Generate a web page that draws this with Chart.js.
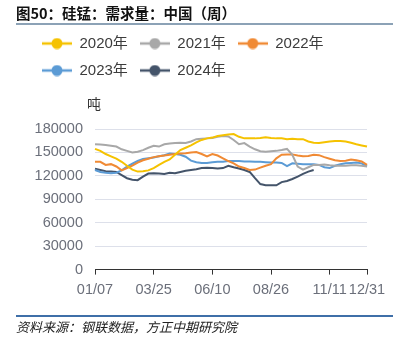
<!DOCTYPE html>
<html lang="zh">
<head>
<meta charset="UTF-8">
<title>硅锰：需求量：中国（周）</title>
<style>
  body { margin: 0; background: #fff; }
  #wrap { position: relative; width: 393px; height: 342px; overflow: hidden;
          font-family: "Liberation Sans", "Noto Sans CJK SC", sans-serif; }
  #chart { position: absolute; left: 0; top: 0; }
  .title { position: absolute; left: 16px; top: 5px; font-size: 14.5px; line-height: 16px;
           font-weight: bold; color: #111; font-family: "Noto Sans CJK SC", sans-serif; }
  .rule-top { position: absolute; left: 16px; right: 0; top: 23px; height: 1.5px; background: #8ca2b6; }
  .unit { position: absolute; left: 87px; top: 96px; font-size: 14px; line-height: 14px; color: #333;
          font-family: "Noto Sans CJK SC", sans-serif; }
  .rule-bottom { position: absolute; left: 16px; right: 0; top: 315px; height: 1.5px; background: #3f6fa8; }
  .source { position: absolute; left: 16px; top: 320px; font-size: 13px; line-height: 14px; color: #222;
            font-style: italic; font-family: "Noto Sans CJK SC", sans-serif; }
</style>
<script src="https://cdn.jsdelivr.net/npm/chart.js@4.4.1/dist/chart.umd.min.js"></script>
</head>
<body>
<div id="wrap">
  <canvas id="chart" width="393" height="342"></canvas>
  <div class="title">图50：硅锰：需求量：中国（周）</div>
  <div class="rule-top"></div>
  <div class="unit">吨</div>
  <div class="rule-bottom"></div>
  <div class="source">资料来源：钢联数据，方正中期研究院</div>
</div>
<script>
// weekly categories, only some of them get a label on the axis
const weeks = ['01/07','01/14','01/21','01/28','02/04','02/11','02/18','02/25','03/04','03/11','03/18','03/25',
  '04/01','04/08','04/15','04/22','04/29','05/06','05/13','05/20','05/27','06/03','06/10','06/17','06/24',
  '07/01','07/08','07/15','07/22','07/29','08/05','08/12','08/19','08/26','09/02','09/09','09/16','09/23',
  '09/30','10/07','10/14','10/21','10/28','11/04','11/11','11/18','11/25','12/02','12/09','12/16','12/23','12/31'];
const shownWeeks = ['01/07','03/25','06/10','08/26','11/11','12/31'];

const seriesNames = ['2020年', '2021年', '2022年', '2023年', '2024年'];
const seriesColors = ['#F5C200', '#A8A8A8', '#F08A34', '#5B9BD5', '#44546A'];

const y2020 = [154500,152000,148000,145000,142000,138000,133000,128000,125500,126000,127000,130000,
  134000,138000,141000,147000,153000,156000,159000,163000,166000,168000,169000,171000,172000,173000,
  173500,170000,168000,168000,168000,168500,169500,168500,168000,168000,167000,167500,167000,167000,
  164000,162500,162000,163000,164000,164500,164500,164000,162500,160500,159000,157500];
const y2021 = [160500,160000,159500,158500,157500,154000,152000,150000,151000,153000,156000,158500,
  157500,160500,161500,162000,162500,162000,164000,167000,167500,168000,168500,170000,171000,170500,
  166000,160500,162000,157500,154000,151500,151000,151500,152000,153000,154500,147000,132000,128000,
  131000,134000,134000,134500,133500,133000,133000,133000,133500,133500,133000,132000];
const y2022 = [138000,138000,134000,135000,132000,127000,130000,133000,137000,140000,142000,144000,
  145000,146000,147000,148000,148500,149000,150000,150500,148000,145000,148000,146000,142500,139000,
  136000,132000,130000,127500,128000,130500,133000,135000,142500,147000,147500,147500,146000,145000,
  145500,147000,146500,144000,142000,140000,139000,139500,141000,140000,138500,134000];
const y2023 = [127500,125000,124000,123500,124000,127000,132000,135500,139000,141500,142500,143500,
  145000,146500,148500,148000,147000,144500,139500,137500,136500,136500,137500,138000,138000,139000,
  139000,139000,138500,138500,138000,138000,137500,137000,137000,136500,132500,136000,135500,135000,
  135000,135000,134000,131000,130000,133000,135000,136000,136500,137000,136000,132000];
const y2024 = [129000,127500,126000,125500,125000,121000,117000,115000,114500,119000,123000,123500,
  123000,122500,124000,123500,125000,126500,127500,128500,130000,130500,130000,129500,130000,133000,
  131000,129500,127500,125000,117000,109500,108000,108000,108000,112000,113500,116000,119000,122500,
  125500,127500];
const seriesValues = [y2020, y2021, y2022, y2023, y2024];

// legend marker: short line with a dot in the middle
function legendSwatch(color) {
  const c = document.createElement('canvas');
  c.width = 30; c.height = 12;
  const g = c.getContext('2d');
  g.strokeStyle = color; g.lineWidth = 2.5;
  g.beginPath(); g.moveTo(0, 6); g.lineTo(30, 6); g.stroke();
  g.fillStyle = color;
  g.beginPath(); g.arc(15, 6, 5.5, 0, Math.PI * 2); g.fill();
  return c;
}

// push the plot area down below the legend, leaves room for the unit label
const legendGap = {
  id: 'legendGap',
  beforeInit(chart) {
    const fit = chart.legend.fit;
    chart.legend.fit = function () { fit.call(this); this.height += 41; };
  }
};

const tickFont = { family: '"Liberation Sans", "Noto Sans CJK SC", sans-serif', size: 14.5 };

new Chart(document.getElementById('chart'), {
  type: 'line',
  data: {
    labels: weeks,
    datasets: seriesNames.map((name, i) => ({
      label: name,
      data: seriesValues[i],
      borderColor: seriesColors[i],
      backgroundColor: seriesColors[i],
      borderWidth: 2,
      pointRadius: 0,
      pointHoverRadius: 0,
      pointStyle: legendSwatch(seriesColors[i]),
      tension: 0,
      fill: false
    }))
  },
  options: {
    responsive: false,
    animation: false,
    layout: { padding: { top: 24, left: 30, right: 26, bottom: 36 } },
    plugins: {
      tooltip: { enabled: false },
      legend: {
        position: 'top',
        align: 'start',
        labels: {
          usePointStyle: true,
          pointStyleWidth: 30,
          padding: 12,
          color: '#3c3c3c',
          font: { family: '"Liberation Sans", "Noto Sans CJK SC", sans-serif', size: 15 }
        }
      }
    },
    scales: {
      x: {
        ticks: {
          autoSkip: false,
          maxRotation: 0,
          padding: 7,
          color: '#6b6f7a',
          font: tickFont,
          callback: function (v, idx) {
            const lab = weeks[idx];
            return shownWeeks.includes(lab) ? lab : null;
          }
        },
        grid: { drawOnChartArea: false, drawTicks: true, tickLength: 5, color: '#333' },
        border: { display: true, color: '#333', width: 1 }
      },
      y: {
        min: 0,
        max: 180000,
        ticks: {
          stepSize: 30000,
          padding: 12,
          color: '#6b6f7a',
          font: tickFont,
          callback: v => String(v)
        },
        grid: { color: '#dde0ea', lineWidth: 1, drawTicks: false },
        border: { display: false },
        afterFit: scale => { scale.width = 65; }
      }
    }
  },
  plugins: [legendGap]
});
</script>
</body>
</html>
